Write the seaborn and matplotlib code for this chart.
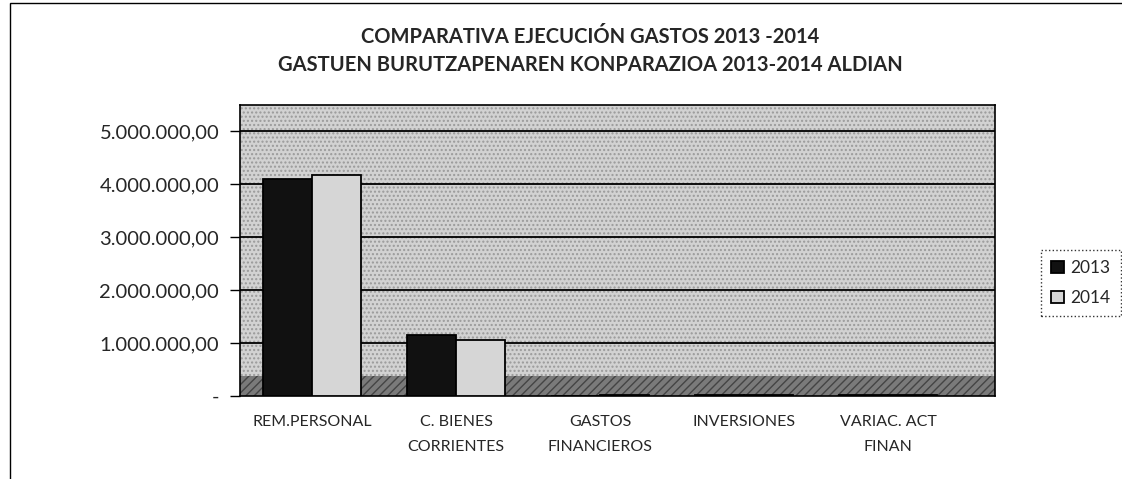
import matplotlib
matplotlib.use("Agg")
import matplotlib.pyplot as plt
import seaborn as sns
import pandas as pd
from matplotlib.patches import Rectangle

categories = ["REM.PERSONAL", "C. BIENES\nCORRIENTES", "GASTOS\nFINANCIEROS", "INVERSIONES", "VARIAC. ACT\nFINAN"]
series_names = ["2013", "2014"]
values_2013 = [4100000, 1150000, 0, 20000, 15000]
values_2014 = [4180000, 1050000, 12000, 25000, 10000]
ytick_values = [0, 1000000, 2000000, 3000000, 4000000, 5000000]
ytick_labels = ["-", "1.000.000,00", "2.000.000,00", "3.000.000,00", "4.000.000,00", "5.000.000,00"]
title_lines = ["COMPARATIVA EJECUCIÓN GASTOS 2013 -2014",
               "GASTUEN BURUTZAPENAREN KONPARAZIOA 2013-2014 ALDIAN"]

df = pd.DataFrame({
    "cat": categories * 2,
    "year": [series_names[0]] * len(categories) + [series_names[1]] * len(categories),
    "value": values_2013 + values_2014,
})

sns.set_theme(style="white")
plt.rcParams["font.family"] = ["Lato", "DejaVu Sans"]

fig = plt.figure(figsize=(11.22, 4.79), dpi=100)
ax = fig.add_axes([240 / 1122, 1 - 396 / 479, (995 - 240) / 1122, (396 - 105) / 479])
ax.set_facecolor("#d2d2d2")
ax.add_patch(Rectangle((0, 0), 1, 1, transform=ax.transAxes, facecolor="none",
                       edgecolor="#9a9a9a", hatch="....", lw=0, zorder=0))

sns.barplot(data=df, x="cat", y="value", hue="year", palette=["#111111", "#d6d6d6"],
            width=0.68, edgecolor="black", linewidth=1.3, ax=ax, zorder=3)

ax.set_ylim(0, 5500000)
ax.set_xlim(-0.5, -0.5 + (995 - 240) / 144)
# floor
ax.axhspan(0, 380000, facecolor="#7a7a7a", edgecolor="#444444", hatch="////", lw=0, zorder=1)
for v in ytick_values[1:]:
    ax.axhline(v, color="black", lw=1.3, zorder=2)

ax.set_yticks(ytick_values)
ax.set_yticklabels(ytick_labels, fontsize=14.5)
ax.set_xticks(range(len(categories)))
ax.set_xticklabels(categories, fontsize=11.5, linespacing=2.0, va="top")
ax.tick_params(axis="y", length=7, width=1, color="black", left=True, pad=8)
ax.tick_params(axis="x", length=0, pad=14)
ax.set_xlabel("")
ax.set_ylabel("")
for s in ["top", "right", "left", "bottom"]:
    ax.spines[s].set_color("black")
    ax.spines[s].set_linewidth(1.2)

leg = ax.legend(title=None, loc="center left", bbox_to_anchor=(1041 / 1122, 1 - 283 / 479),
                bbox_transform=fig.transFigure, frameon=True, fontsize=12.5,
                handlelength=0.75, handleheight=0.75, handletextpad=0.35, fancybox=False,
                borderpad=0.6, borderaxespad=0, labelspacing=0.8)
leg.get_frame().set_edgecolor("black")
leg.get_frame().set_linestyle(":")

fig.text(590 / 1122, 1 - 37 / 479, title_lines[0], ha="center", va="center",
         fontsize=14.5, fontweight="bold")
fig.text(590 / 1122, 1 - 65 / 479, title_lines[1], ha="center", va="center",
         fontsize=14.5, fontweight="bold")

fig.add_artist(Rectangle((10 / 1122, -0.02), 1.1, 1 - 3 / 479 + 0.02, transform=fig.transFigure,
                         fill=False, edgecolor="black", lw=1))

fig.savefig("out.png", dpi=100)
